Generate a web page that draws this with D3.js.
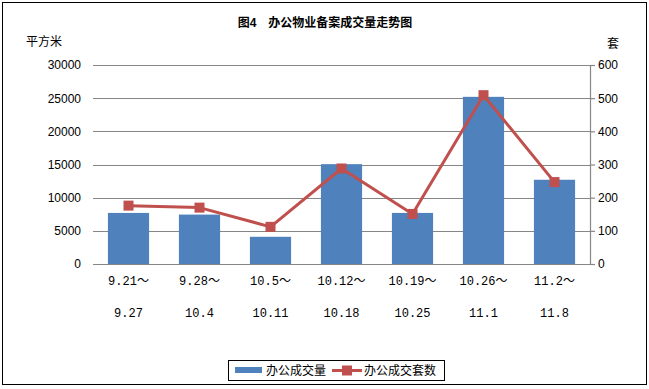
<!DOCTYPE html>
<html>
<head>
<meta charset="utf-8">
<script src="https://cdn.jsdelivr.net/npm/d3@7"></script>
<style>
	body { margin: 0; background: #fff; }
	text { font-family: "Liberation Sans", "Noto Sans CJK SC", sans-serif; }
	text.mono { font-family: "Liberation Mono", "Noto Sans CJK SC", monospace; }
</style>
</head>
<body>
<svg id="chart"></svg>
<script>
var periodsTop = ["9.21～", "9.28～", "10.5～", "10.12～", "10.19～", "10.26～", "11.2～"];
var periodsBottom = ["9.27", "10.4", "10.11", "10.18", "10.25", "11.1", "11.8"];
var area = [7700, 7450, 4100, 15050, 7700, 25200, 12700];
var units = [176, 170, 112, 288, 151, 509, 247];
var leftTicks = [0, 5000, 10000, 15000, 20000, 25000, 30000];
var rightTicks = [0, 100, 200, 300, 400, 500, 600];

var W = 649, H = 389,
	margin = {top: 65, right: 59, bottom: 125, left: 93},
	width = W - margin.left - margin.right,
	height = H - margin.top - margin.bottom,
	barColor = "#4F81BD",
	lineColor = "#C0504D",
	gridColor = "#868686";

var svg = d3.select("#chart").attr("width", W).attr("height", H);

svg.append("rect")
	.attr("x", 2.5).attr("y", 2.5)
	.attr("width", W - 5).attr("height", H - 7)
	.attr("fill", "#fff").attr("stroke", "#000").attr("stroke-width", 1);

svg.append("text")
	.attr("x", 325).attr("y", 27)
	.attr("text-anchor", "middle")
	.attr("font-size", 12).attr("font-weight", "bold")
	.text("图4　办公物业备案成交量走势图");

svg.append("text").attr("x", 26).attr("y", 46).attr("font-size", 12).text("平方米");
svg.append("text").attr("x", 607).attr("y", 48).attr("font-size", 12).text("套");

var g = svg.append("g").attr("transform", "translate(" + margin.left + "," + margin.top + ")");

var x = d3.scaleBand().domain(d3.range(periodsTop.length)).range([0, width]).paddingInner(0.42).paddingOuter(0.21);
var y = d3.scaleLinear().domain([0, 30000]).range([height, 0]);
var y2 = d3.scaleLinear().domain([0, 600]).range([height, 0]);

// gridlines + left axis
var left = g.append("g")
	.call(d3.axisLeft(y).tickValues(leftTicks).tickSize(0).tickPadding(12).tickFormat(d3.format("d")));
left.select(".domain").remove();
left.selectAll("text").attr("font-size", 12).attr("fill", "#000");

g.append("g").selectAll("line")
	.data(leftTicks)
	.enter().append("line")
	.attr("x1", 0).attr("x2", width)
	.attr("y1", function(d) { return Math.round(y(d)) + 0.5; })
	.attr("y2", function(d) { return Math.round(y(d)) + 0.5; })
	.attr("stroke", gridColor).attr("stroke-width", 1.2);

// right axis
var right = g.append("g")
	.attr("transform", "translate(" + width + ",0)")
	.call(d3.axisRight(y2).tickValues(rightTicks).tickSize(5).tickPadding(3).tickFormat(d3.format("d")));
right.select(".domain").attr("stroke", gridColor).attr("stroke-width", 1.2);
right.selectAll(".tick line").attr("stroke", gridColor).attr("stroke-width", 1.2);
right.selectAll("text").attr("font-size", 12).attr("fill", "#000");

// bars
g.append("g").selectAll("rect")
	.data(area)
	.enter().append("rect")
	.attr("x", function(d, i) { return x(i); })
	.attr("y", function(d) { return y(d); })
	.attr("width", x.bandwidth())
	.attr("height", function(d) { return height - y(d); })
	.attr("fill", barColor);

// line
var line = d3.line()
	.x(function(d, i) { return x(i) + x.bandwidth() / 2; })
	.y(function(d) { return y2(d); });

g.append("path")
	.datum(units)
	.attr("fill", "none")
	.attr("stroke", lineColor)
	.attr("stroke-width", 3)
	.attr("stroke-linejoin", "round")
	.attr("d", line);

g.append("g").selectAll("rect")
	.data(units)
	.enter().append("rect")
	.attr("x", function(d, i) { return x(i) + x.bandwidth() / 2 - 5; })
	.attr("y", function(d) { return y2(d) - 5; })
	.attr("width", 10).attr("height", 10)
	.attr("fill", lineColor);

// category labels (two lines)
var cat = g.append("g").selectAll("g")
	.data(periodsTop)
	.enter().append("g")
	.attr("transform", function(d, i) { return "translate(" + (x(i) + x.bandwidth() / 2) + "," + height + ")"; });
cat.append("text")
	.attr("class", "mono")
	.attr("y", 21).attr("text-anchor", "middle").attr("font-size", 12)
	.text(function(d) { return d; });
cat.append("text")
	.attr("class", "mono")
	.attr("y", 53).attr("text-anchor", "middle").attr("font-size", 12)
	.text(function(d, i) { return periodsBottom[i]; });

// legend
var lg = svg.append("g").attr("transform", "translate(228,360)");
lg.append("rect").attr("x", 0.5).attr("y", 0.5).attr("width", 216).attr("height", 20)
	.attr("fill", "#fff").attr("stroke", "#000");
lg.append("rect").attr("x", 7).attr("y", 7).attr("width", 27).attr("height", 6).attr("fill", barColor);
lg.append("text").attr("x", 38).attr("y", 15).attr("font-size", 12).text("办公成交量");
lg.append("line").attr("x1", 104).attr("x2", 134).attr("y1", 10.5).attr("y2", 10.5)
	.attr("stroke", lineColor).attr("stroke-width", 3);
lg.append("rect").attr("x", 114).attr("y", 5.5).attr("width", 10).attr("height", 10).attr("fill", lineColor);
lg.append("text").attr("x", 136).attr("y", 15).attr("font-size", 12).text("办公成交套数");
</script>
</body>
</html>
